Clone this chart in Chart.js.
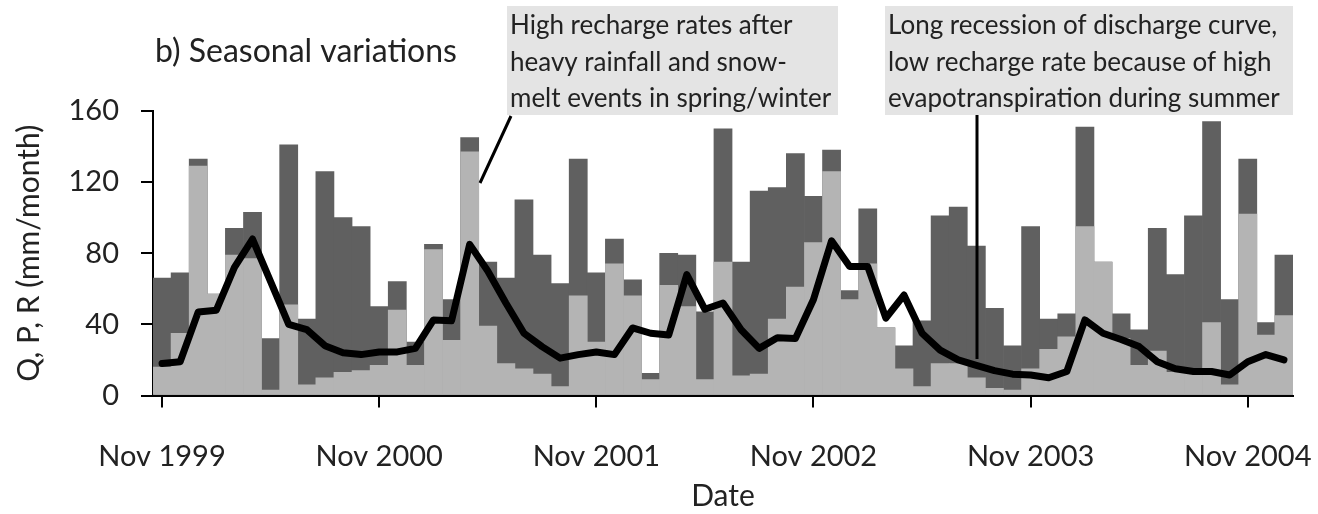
<!DOCTYPE html>
<html>
<head>
<meta charset="utf-8">
<script src="https://cdn.jsdelivr.net/npm/chart.js@4.4.1/dist/chart.umd.min.js"></script>
<style>
  html, body { margin: 0; padding: 0; background: #fff; }
</style>
</head>
<body>
<canvas id="seasonalChart" width="1318" height="514"></canvas>
<script>
// monthly series, Nov 1999 .. Jan 2005 (mm/month)
var precip = [66, 69, 133, 57, 94, 103, 32, 141, 43, 126, 100, 95,
              50, 64, 30, 85, 54, 145, 75, 66, 110, 79, 63, 133,
              69, 88, 65, 12.5, 80, 79, 47, 150, 75, 115, 117, 136,
              112, 138, 59, 105, 38, 28, 42, 101, 106, 84, 49, 28,
              95, 43, 46, 151, 75, 46, 37, 94, 68, 101, 154, 54,
              133, 41, 79];
var recharge = [16, 35, 129, 57, 79, 77, 3, 51, 6, 10, 13, 14,
                17, 48, 17, 82, 31, 137, 39, 18, 15, 12, 5, 56,
                30, 74, 56, 9, 62, 50, 9, 75, 11, 12, 43, 61,
                86, 126, 54, 74, 38, 15, 5, 18, 18, 10, 4, 3,
                15, 26, 33, 95, 75, 32, 17, 25, 13, 13, 41, 6,
                102, 34, 45];
var discharge = [18, 19, 47, 48, 72, 88, 64, 40, 37, 28, 24, 23,
                 24.5, 24.5, 26.5, 42.5, 42, 85, 70, 52, 35, 27.5, 21, 23,
                 24.5, 23, 38, 35, 34, 68, 48.5, 52, 37, 26.5, 32.5, 32,
                 54, 87, 72.5, 72.5, 43.5, 56.5, 35, 25.5, 20, 17, 14, 12,
                 11.5, 10, 13.5, 42.5, 35, 31.5, 27.5, 19, 15, 13.5, 13.5, 11.5,
                 19, 23, 20];
var tickLabels = ['Nov 1999', 'Nov 2000', 'Nov 2001', 'Nov 2002', 'Nov 2003', 'Nov 2004'];
var yTickLabels = [0, 40, 80, 120, 160];

var monthNames = ['Jan', 'Feb', 'Mar', 'Apr', 'May', 'Jun', 'Jul', 'Aug', 'Sep', 'Oct', 'Nov', 'Dec'];
var labels = [];
for (var i = 0; i < precip.length; i++) {
  var m = 10 + i;
  labels.push(monthNames[m % 12] + ' ' + (1999 + Math.floor(m / 12)));
}

Chart.defaults.font.family = 'Lato';
Chart.defaults.color = '#222';

// title text and the two grey note boxes
var notesPlugin = {
  id: 'notes',
  afterDraw: function (chart) {
    var ctx = chart.ctx;
    ctx.save();
    ctx.fillStyle = '#222';
    ctx.textBaseline = 'alphabetic';
    ctx.font = '32px Lato';
    ctx.fillText('b) Seasonal variations', 155, 62);

    ctx.fillStyle = '#e4e4e4';
    ctx.fillRect(507, 6, 331, 109);
    ctx.fillRect(885, 6, 408, 109);

    ctx.fillStyle = '#222';
    ctx.font = '26px Lato';
    var rows = [34, 71, 107];
    var left = ['High recharge rates after', 'heavy rainfall and snow-', 'melt events in spring/winter'];
    var right = ['Long recession of discharge curve,', 'low recharge rate because of high', 'evapotranspiration during summer'];
    for (var r = 0; r < rows.length; r++) {
      ctx.fillText(left[r], 510, rows[r]);
      ctx.fillText(right[r], 888, rows[r]);
    }

    ctx.strokeStyle = '#000';
    ctx.lineWidth = 3;
    ctx.beginPath();
    ctx.moveTo(511, 116);
    ctx.lineTo(480, 183);
    ctx.moveTo(977, 115);
    ctx.lineTo(977, 359);
    ctx.stroke();
    ctx.restore();
  }
};

var ctx = document.getElementById('seasonalChart').getContext('2d');
new Chart(ctx, {
  type: 'bar',
  data: {
    labels: labels,
    datasets: [{
      type: 'line',
      label: 'Q',
      data: discharge,
      borderColor: '#000',
      borderWidth: 7,
      pointRadius: 0,
      borderJoinStyle: 'round',
      borderCapStyle: 'round',
      tension: 0,
      order: 0
    }, {
      label: 'R',
      data: recharge,
      backgroundColor: '#b4b4b4',
      grouped: false,
      barPercentage: 1,
      categoryPercentage: 1,
      order: 1
    }, {
      label: 'P',
      data: precip,
      backgroundColor: '#606060',
      grouped: false,
      barPercentage: 1,
      categoryPercentage: 1,
      order: 2
    }]
  },
  options: {
    responsive: false,
    animation: false,
    layout: { padding: { top: 111, right: 25, left: 0, bottom: 0 } },
    plugins: {
      legend: { display: false },
      tooltip: { enabled: false }
    },
    scales: {
      x: {
        offset: true,
        grid: { offset: false, drawOnChartArea: false, tickLength: 12, color: '#000', lineWidth: 2 },
        border: { color: '#000', width: 2 },
        ticks: {
          autoSkip: false,
          maxRotation: 0,
          padding: 32,
          color: '#222',
          font: { size: 29 },
          callback: function (val) {
            var l = this.getLabelForValue(val);
            return tickLabels.indexOf(l) >= 0 ? l : null;
          }
        },
        title: { display: true, text: 'Date', color: '#222', font: { size: 30 }, padding: { top: 0, bottom: 0 } },
        afterFit: function (scale) {
          scale.height = 118.5;
          scale.paddingLeft = 0;
          scale.paddingRight = 0;
        }
      },
      y: {
        min: 0,
        max: 160,
        grid: { drawOnChartArea: false, tickLength: 12, color: '#000', lineWidth: 2 },
        border: { color: '#000', width: 2 },
        ticks: {
          stepSize: 20,
          padding: 22,
          color: '#222',
          font: { size: 29 },
          callback: function (val) {
            return yTickLabels.indexOf(val) >= 0 ? val : '';
          }
        },
        title: { display: true, text: 'Q, P, R (mm/month)', color: '#222', font: { size: 30 }, padding: { top: 11, bottom: 0 } },
        afterFit: function (scale) { scale.width = 153; }
      }
    }
  },
  plugins: [notesPlugin]
});
</script>
</body>
</html>
